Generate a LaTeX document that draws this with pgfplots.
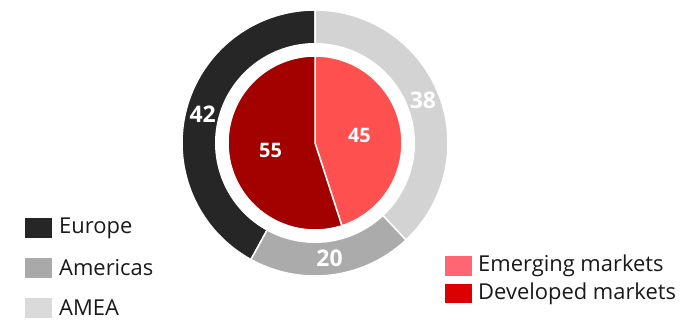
\documentclass[border=0pt]{standalone}
\usepackage{pgfplots}
\usepackage{pgfplotstable}
\pgfplotsset{compat=1.18}
\usepackage{fontspec}
\setmainfont{Open Sans}
\definecolor{cEU}{HTML}{262626}
\definecolor{cAM}{HTML}{ABABAB}
\definecolor{cAS}{HTML}{D3D3D3}
\definecolor{cEM}{HTML}{FF5050}
\definecolor{cDV}{HTML}{A30000}
\definecolor{lAM}{HTML}{A9A9A9}
\definecolor{lAS}{HTML}{DADADA}
\definecolor{lEM}{HTML}{FF6672}
\definecolor{lDV}{HTML}{DD0000}
\pgfplotstableread{
region share
Europe 42
Americas 20
AMEA 38
}\regions
\pgfplotstableread{
market share
Emerging 45
Developed 55
}\markets
\begin{document}
\begin{tikzpicture}
\pgfplotstablegetelem{0}{share}\of\regions \let\vEU\pgfplotsretval
\pgfplotstablegetelem{1}{share}\of\regions \let\vAM\pgfplotsretval
\pgfplotstablegetelem{2}{share}\of\regions \let\vAS\pgfplotsretval
\pgfplotstablegetelem{0}{share}\of\markets \let\vEM\pgfplotsretval
\pgfplotstablegetelem{1}{share}\of\markets \let\vDV\pgfplotsretval
\pgfmathsetmacro{\aAS}{90-3.6*\vAS}
\pgfmathsetmacro{\aAM}{\aAS-3.6*\vAM}
\pgfmathsetmacro{\mAS}{(90+\aAS)/2}
\pgfmathsetmacro{\mAM}{(\aAS+\aAM)/2}
\pgfmathsetmacro{\mEU}{(\aAM-270)/2}
\pgfmathsetmacro{\aEM}{90-3.6*\vEM}
\pgfmathsetmacro{\mEM}{(90+\aEM)/2}
\pgfmathsetmacro{\mDV}{(\aEM-270)/2}
\def\cx{315}\def\cy{178}
\def\Ro{133}\def\Rw{100}\def\Rp{87}
\begin{axis}[
  scale only axis, width=687bp, height=321bp,
  xmin=0, xmax=687, ymin=0, ymax=321,
  hide axis, clip=false,
]
\coordinate (ll) at (axis cs:0,0);
\coordinate (ur) at (axis cs:687,321);
\addplot[fill=cEU, draw=white, line width=1.5pt, domain=-270:\aAM, samples=80, variable=\t]
  ({\cx+\Ro*cos(t)},{\cy+\Ro*sin(t)}) -- (axis cs:\cx,\cy) -- cycle;
\addplot[fill=cAM, draw=white, line width=1.5pt, domain=\aAM:\aAS, samples=50, variable=\t]
  ({\cx+\Ro*cos(t)},{\cy+\Ro*sin(t)}) -- (axis cs:\cx,\cy) -- cycle;
\addplot[fill=cAS, draw=white, line width=1.5pt, domain=\aAS:90, samples=80, variable=\t]
  ({\cx+\Ro*cos(t)},{\cy+\Ro*sin(t)}) -- (axis cs:\cx,\cy) -- cycle;
\addplot[fill=white, draw=none, domain=0:360, samples=150, variable=\t]
  ({\cx+\Rw*cos(t)},{\cy+\Rw*sin(t)}) -- cycle;
\addplot[fill=cEM, draw=white, line width=1.5pt, domain=\aEM:90, samples=80, variable=\t]
  ({\cx+\Rp*cos(t)},{\cy+\Rp*sin(t)}) -- (axis cs:\cx,\cy) -- cycle;
\addplot[fill=cDV, draw=white, line width=1.5pt, domain=-270:\aEM, samples=80, variable=\t]
  ({\cx+\Rp*cos(t)},{\cy+\Rp*sin(t)}) -- (axis cs:\cx,\cy) -- cycle;
% value labels
\node[text=white, font=\bfseries\fontsize{23}{23}\selectfont] at (axis cs:{\cx+116*cos(\mAS)},{\cy+116*sin(\mAS)}) {\vAS};
\node[text=white, font=\bfseries\fontsize{23}{23}\selectfont] at (axis cs:{\cx+116*cos(\mAM)},{\cy+116*sin(\mAM)}) {\vAM};
\node[text=white, font=\bfseries\fontsize{23}{23}\selectfont] at (axis cs:{\cx+116*cos(\mEU)},{\cy+116*sin(\mEU)}) {\vEU};
\node[text=white, font=\bfseries\fontsize{20}{20}\selectfont] at (axis cs:{\cx+45*cos(\mEM)},{\cy+45*sin(\mEM)}) {\vEM};
\node[text=white, font=\bfseries\fontsize{20}{20}\selectfont] at (axis cs:{\cx+45*cos(\mDV)},{\cy+45*sin(\mDV)}) {\vDV};
% legends
\fill[cEU] (axis cs:25,83) rectangle (axis cs:52,103);
\fill[lAM] (axis cs:25,43) rectangle (axis cs:52,63);
\fill[lAS] (axis cs:25,3) rectangle (axis cs:52,23);
\node[anchor=west, inner sep=0pt, font=\fontsize{22}{22}\selectfont, text=black!90] at (axis cs:59,93) {Europe};
\node[anchor=west, inner sep=0pt, font=\fontsize{22}{22}\selectfont, text=black!90] at (axis cs:59,53) {Americas};
\node[anchor=west, inner sep=0pt, font=\fontsize{22}{22}\selectfont, text=black!90] at (axis cs:59,13) {AMEA};
\fill[lEM] (axis cs:445,45) rectangle (axis cs:472,65);
\fill[lDV] (axis cs:445,18) rectangle (axis cs:472,37);
\node[anchor=west, inner sep=0pt, font=\fontsize{22}{22}\selectfont, text=black!90] at (axis cs:478,55) {Emerging markets};
\node[anchor=west, inner sep=0pt, font=\fontsize{22}{22}\selectfont, text=black!90] at (axis cs:478,27) {Developed markets};
\end{axis}
\pgfresetboundingbox
\path[use as bounding box] (ll) rectangle (ur);
\end{tikzpicture}
\end{document}
